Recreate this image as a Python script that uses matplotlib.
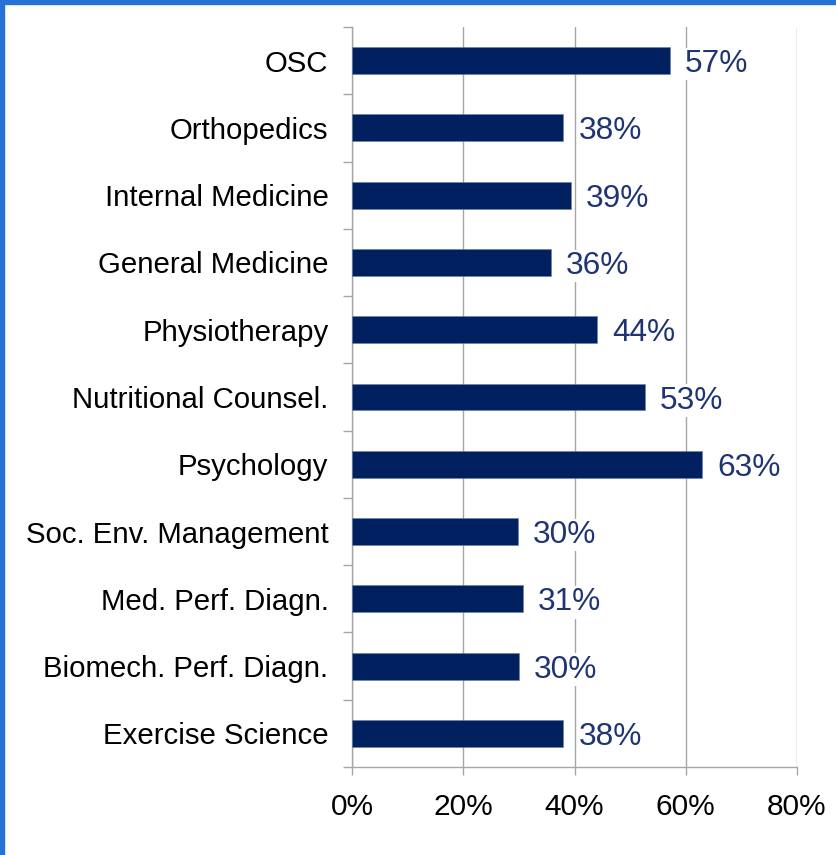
"""
Horizontal bar chart: share per department, with value labels.
"""
import matplotlib.pyplot as plt
from matplotlib.patches import Rectangle
from matplotlib.ticker import FixedLocator, PercentFormatter

plt.rcParams['font.family'] = ['Liberation Sans', 'DejaVu Sans']

# Data (top to bottom as shown)
categories = ['OSC', 'Orthopedics', 'Internal Medicine', 'General Medicine',
              'Physiotherapy', 'Nutritional Counsel.', 'Psychology',
              'Soc. Env. Management', 'Med. Perf. Diagn.',
              'Biomech. Perf. Diagn.', 'Exercise Science']
values = [57.2, 38.0, 39.4, 35.8, 44.1, 52.6, 63.0, 29.8, 30.7, 30.0, 38.0]
x_ticks = [0, 20, 40, 60, 80]

bar_color = '#002060'
label_color = '#1f3472'
grid_color = '#a6a6a6'


def main():
    fig = plt.figure(figsize=(8.37, 8.55), dpi=100)
    ax = fig.add_axes([352 / 837, 1 - 767 / 855, 445 / 837, 740 / 855])

    # blue frame on the left and top edge
    fig.patches.append(Rectangle((0, 0), 4 / 837, 1, transform=fig.transFigure,
                                 color='#2671d6', zorder=10))
    fig.patches.append(Rectangle((0, 1 - 4 / 855), 1, 4 / 855, transform=fig.transFigure,
                                 color='#2671d6', zorder=10))

    y = list(range(len(categories)))
    ax.barh(y, values, height=0.4, color=bar_color, edgecolor='#6b7fa6',
            linewidth=0.4, zorder=3)

    for yi, v in zip(y, values):
        ax.text(v + 2.7, yi, f"{round(v)}%", va='center_baseline', ha='left',
                fontsize=22.8, color=label_color, zorder=4,
                bbox=dict(facecolor='white', edgecolor='none', pad=1))

    ax.set_ylim(len(categories) - 0.5, -0.5)
    ax.set_xlim(0, 80)

    ax.set_yticks(y)
    ax.set_yticklabels(categories, fontsize=21.2, va='center_baseline')
    ax.yaxis.set_minor_locator(FixedLocator([i - 0.5 for i in range(len(categories) + 1)]))
    ax.tick_params(axis='y', which='major', length=0, pad=17)
    ax.tick_params(axis='y', which='minor', length=6.5, width=1, color=grid_color)

    ax.set_xticks(x_ticks)
    ax.xaxis.set_major_formatter(PercentFormatter(decimals=0))
    ax.tick_params(axis='x', which='major', length=6, width=1, color=grid_color,
                   labelsize=21.5, pad=13)

    ax.grid(axis='x', color=grid_color, linewidth=1, zorder=0)
    ax.set_axisbelow(True)

    for side in ['top', 'right']:
        ax.spines[side].set_visible(False)
    for side in ['left', 'bottom']:
        ax.spines[side].set_color(grid_color)
        ax.spines[side].set_linewidth(1)

    fig.savefig('out.png', dpi=100)
    plt.close(fig)


if __name__ == "__main__":
    main()
